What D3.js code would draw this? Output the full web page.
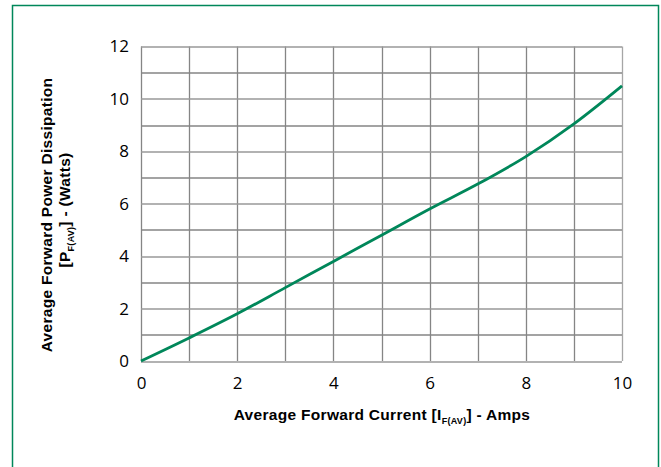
<!DOCTYPE html>
<html>
<head>
<meta charset="utf-8">
<script src="https://cdn.jsdelivr.net/npm/d3@7"></script>
<style>
  body { margin: 0; background: #fff; }
  svg { display: block; }
</style>
</head>
<body>
<div id="chart"></div>
<script>
// Forward current (A) vs. power dissipation (W)
const currentAmps = [0, 1, 2, 3, 4, 5, 6, 7, 8, 9, 10];
const powerWatts = [0, 0.88, 1.8, 2.8, 3.8, 4.8, 5.8, 6.75, 7.8, 9.05, 10.5];
const xTicks = [0, 2, 4, 6, 8, 10];
const yTicks = [0, 2, 4, 6, 8, 10, 12];

const width = 661;
const height = 467;
const margin = { top: 46.5, right: 39, bottom: 106, left: 141 };
const innerW = width - margin.left - margin.right;
const innerH = height - margin.top - margin.bottom;

const svg = d3.select('#chart')
  .append('svg')
  .attr('width', width)
  .attr('height', height);

// green frame round the whole figure
svg.append('rect')
  .attr('x', 12.5)
  .attr('y', 5.5)
  .attr('width', 646)
  .attr('height', 470)
  .attr('fill', 'none')
  .attr('stroke', '#00875a')
  .attr('stroke-width', 1.5);

const g = svg.append('g')
  .attr('transform', `translate(${margin.left},${margin.top})`);

const x = d3.scaleLinear().domain([0, 10]).range([0, innerW]);
const y = d3.scaleLinear().domain([0, 12]).range([innerH, 0]);

// grid (every unit)
g.append('g')
  .selectAll('line')
  .data(d3.range(0, 11))
  .enter().append('line')
  .attr('x1', d => Math.round(x(d)) + 0.5)
  .attr('x2', d => Math.round(x(d)) + 0.5)
  .attr('y1', 0)
  .attr('y2', innerH)
  .attr('stroke', d => d === 10 ? '#a6a6a6' : '#858585')
  .attr('stroke-width', 1.3);

g.append('g')
  .selectAll('line')
  .data(d3.range(0, 13))
  .enter().append('line')
  .attr('x1', 0)
  .attr('x2', innerW)
  .attr('y1', d => Math.round(y(d)) + 0.5)
  .attr('y2', d => Math.round(y(d)) + 0.5)
  .attr('stroke', d => d % 2 === 0 ? '#999' : '#858585')
  .attr('stroke-width', 1.3);

// axes, labels only
const fontTick = "'Open Sans', 'DejaVu Sans', sans-serif";

const xAxis = g.append('g')
  .attr('transform', `translate(0,${innerH})`)
  .call(d3.axisBottom(x).tickValues(xTicks).tickSize(0).tickPadding(16).tickFormat(d3.format('d')));
xAxis.select('.domain').remove();
xAxis.selectAll('text')
  .style('font-family', fontTick)
  .style('font-size', '17px')
  .style('fill', '#000');

const yAxis = g.append('g')
  .call(d3.axisLeft(y).tickValues(yTicks).tickSize(0).tickPadding(12).tickFormat(d3.format('d')));
yAxis.select('.domain').remove();
yAxis.selectAll('text')
  .style('font-family', fontTick)
  .style('font-size', '17px')
  .style('fill', '#000');

// curve
const line = d3.line()
  .x((d, i) => x(currentAmps[i]))
  .y(d => y(d))
  .curve(d3.curveMonotoneX);

g.append('path')
  .datum(powerWatts)
  .attr('d', line)
  .attr('fill', 'none')
  .attr('stroke', '#00875a')
  .attr('stroke-width', 2.8);

// axis titles
const fontTitle = "'Liberation Sans', Arial, sans-serif";

const xTitle = svg.append('text')
  .attr('x', 382)
  .attr('y', 420)
  .attr('text-anchor', 'middle')
  .style('font-family', fontTitle)
  .style('font-size', '15.5px')
  .style('font-weight', 'bold')
  .style('letter-spacing', '0.3px')
  .style('fill', '#000');
xTitle.append('tspan').text('Average Forward Current [I');
xTitle.append('tspan').attr('dy', 4).style('font-size', '9px').text('F(AV)');
xTitle.append('tspan').attr('dy', -4).text('] - Amps');

const yTitle = svg.append('g')
  .attr('transform', 'translate(52,215) rotate(-90)');
yTitle.append('text')
  .attr('x', 0)
  .attr('y', 0)
  .attr('text-anchor', 'middle')
  .style('font-family', fontTitle)
  .style('font-size', '15.5px')
  .style('font-weight', 'bold')
  .style('letter-spacing', '0.3px')
  .style('fill', '#000')
  .text('Average Forward Power Dissipation');

const yTitle2 = yTitle.append('text')
  .attr('x', 5)
  .attr('y', 18)
  .attr('text-anchor', 'middle')
  .style('font-family', fontTitle)
  .style('font-size', '15.5px')
  .style('font-weight', 'bold')
  .style('letter-spacing', '0.3px')
  .style('fill', '#000');
yTitle2.append('tspan').text('[P');
yTitle2.append('tspan').attr('dy', 4).style('font-size', '9px').text('F(AV)');
yTitle2.append('tspan').attr('dy', -4).text('] - (Watts)');
</script>
</body>
</html>
